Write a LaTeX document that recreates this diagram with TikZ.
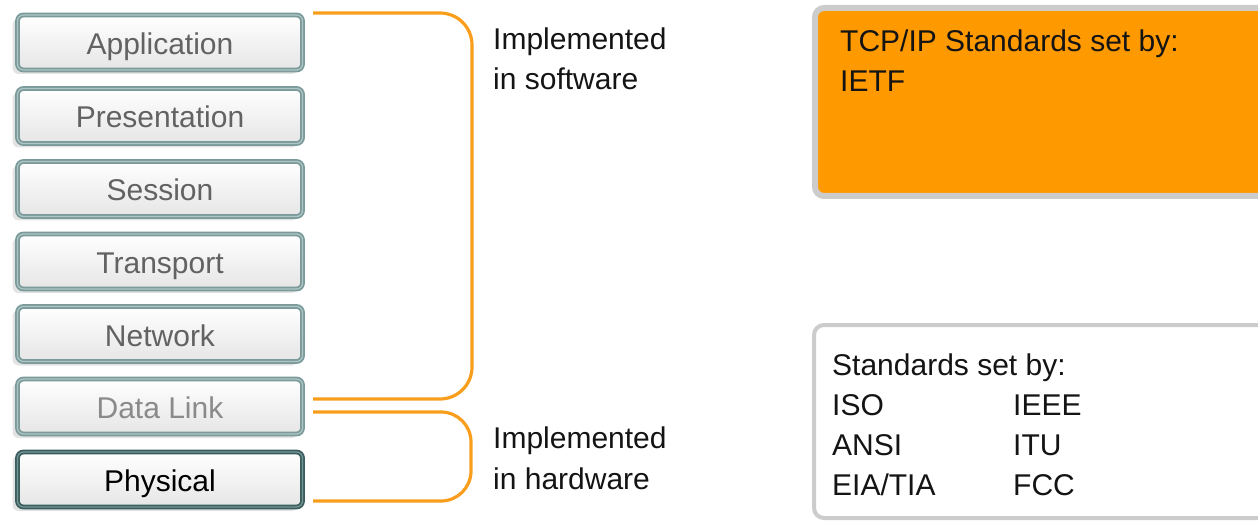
\documentclass[tikz,border=0pt]{standalone}
\usepackage{fontspec}
\setmainfont{Liberation Sans}
\usetikzlibrary{shadows}
\definecolor{layerrim}{HTML}{7B9A9A}
\definecolor{layerinner}{HTML}{B0C6C6}
\definecolor{physrim}{HTML}{3A5E5E}
\definecolor{physinner}{HTML}{789494}
\definecolor{bracketorange}{HTML}{F99E1C}
\definecolor{stdorange}{HTML}{FF9900}
\definecolor{panelrim}{HTML}{CCCCCC}
\definecolor{layertext}{HTML}{626262}
\definecolor{linktext}{HTML}{8A8A8A}
\tikzset{
  layer/.style={rounded corners=6pt, minimum width=285pt, minimum height=55pt,
    draw=layerrim, line width=1.8pt, double=layerinner, double distance=1.2pt,
    top color=white, bottom color=black!10,
    drop shadow={shadow xshift=-5pt, shadow yshift=-4pt, opacity=0.22},
    font=\fontsize{30}{36}\selectfont, text=layertext,
    text height=27pt, text depth=3pt, inner sep=0pt},
  physlayer/.style={layer, draw=physrim, double=physinner, text=black},
  linklayer/.style={layer, text=linktext},
  bracket/.style={draw=bracketorange, line width=3.2pt, rounded corners=32pt},
  lbl/.style={font=\fontsize{30}{36}\selectfont, anchor=base west, inner sep=0pt, text=black!92},
}
\begin{document}
\begin{tikzpicture}[x=1pt, y=-1pt]
\useasboundingbox (0,0) rectangle (1258,521);
\clip (0,0) rectangle (1258,521);

% OSI layer stack
\node[layer]     (app)  at (160,42.5)  {Application};
\node[layer]     (pres) at (160,116)   {Presentation};
\node[layer]     (sess) at (160,189)   {Session};
\node[layer]     (trans) at (160,261.5) {Transport};
\node[layer]     (net)  at (160,334)   {Network};
\node[linklayer] (link) at (160,406.5) {Data Link};
\node[physlayer] (phys) at (160,479.5) {Physical};

% bracket ends
\coordinate (swA) at (313,13);
\coordinate (swB) at (313,399);
\coordinate (hwA) at (313,412);
\coordinate (hwB) at (313,501);

% software / hardware brackets
\draw[bracket] (swA) -- (472,13) -- (472,399) -- (swB);
\draw[bracket, rounded corners=30pt] (hwA) -- (471,412) -- (471,501) -- (hwB);

% bracket labels
\node[lbl] (sw1) at (493,50)  {Implemented};
\node[lbl] (sw2) at (493,90)  {in software};
\node[lbl] (hw1) at (493,448) {Implemented};
\node[lbl] (hw2) at (493,489) {in hardware};

% TCP/IP standards panel
\draw[draw=panelrim, line width=6pt, fill=stdorange, rounded corners=9pt]
  (815,8) rectangle (1275,196);
\node[lbl] (tcp1) at (840,52) {TCP/IP Standards set by:};
\node[lbl] (tcp2) at (840,92) {IETF};

% other standards panel
\draw[draw=panelrim, line width=4pt, fill=white, rounded corners=10pt]
  (814,325) rectangle (1275,518);
\node[lbl] (std0) at (832,375) {Standards set by:};
\node[lbl] (iso)  at (832,415) {ISO};
\node[lbl] (ansi) at (832,455) {ANSI};
\node[lbl] (eia)  at (832,495) {EIA/TIA};
\node[lbl] (ieee) at (1013,415) {IEEE};
\node[lbl] (itu)  at (1013,455) {ITU};
\node[lbl] (fcc)  at (1013,495) {FCC};
\end{tikzpicture}
\end{document}
